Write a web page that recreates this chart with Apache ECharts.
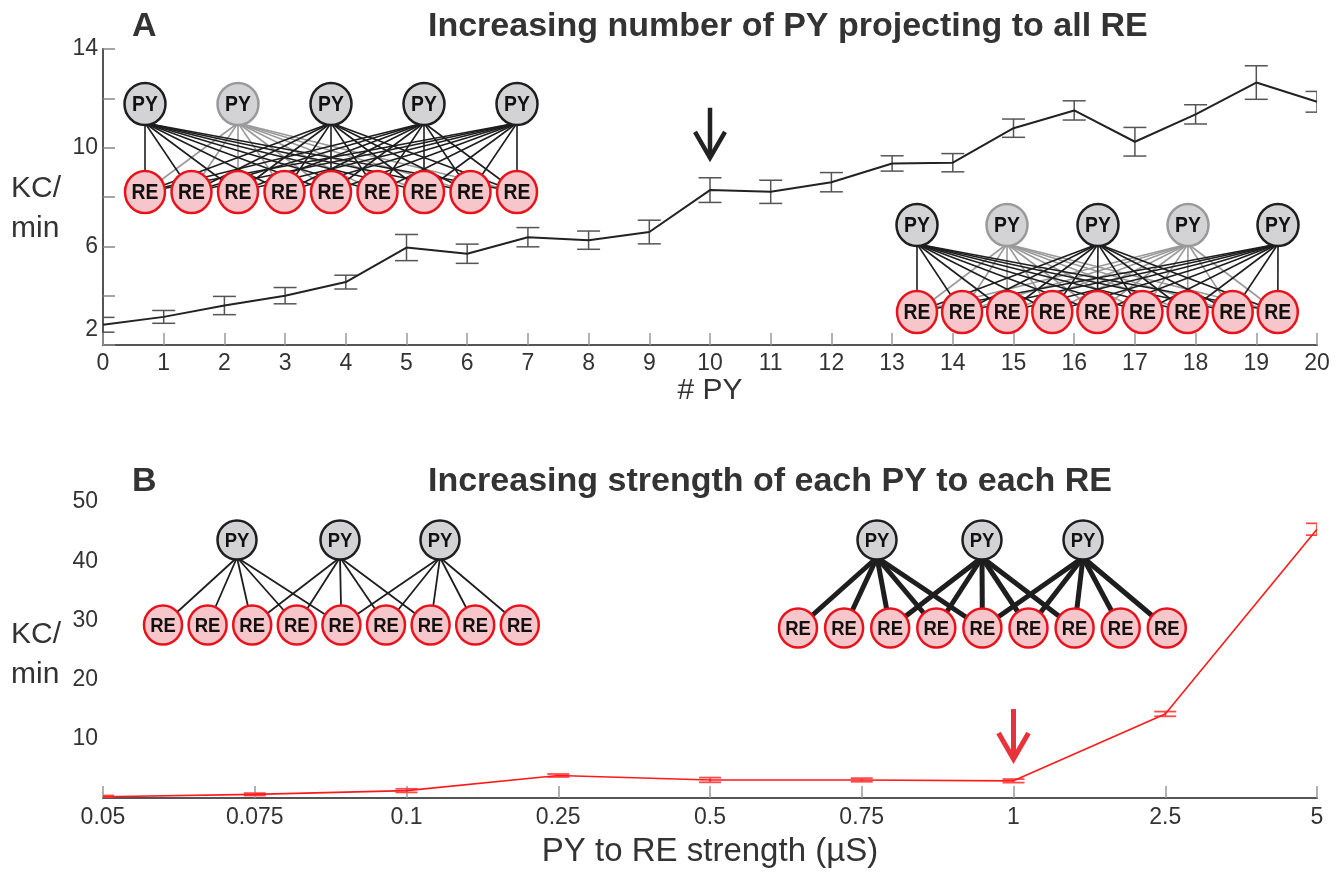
<!DOCTYPE html>
<html>
<head>
<meta charset="utf-8">
<script src="https://cdn.jsdelivr.net/npm/echarts@6/dist/echarts.min.js"></script>
<style>html,body{margin:0;padding:0;background:#fff}#c{width:1340px;height:879px}</style>
</head>
<body>
<div id="c"></div>
<script>
// ---- Panel A data ----
const aPY = [0,1,2,3,4,5,6,7,8,9,10,11,12,13,14,15,16,17,18,19,20];
const aMean = [2.82,3.14,3.60,4.00,4.55,5.95,5.70,6.37,6.25,6.58,8.28,8.21,8.60,9.36,9.39,10.79,11.51,10.24,11.35,12.64,11.86];
const aErr  = [0.30,0.26,0.37,0.33,0.28,0.53,0.39,0.39,0.37,0.48,0.50,0.47,0.39,0.31,0.37,0.37,0.39,0.58,0.39,0.68,0.42];
const aYTicks = [2,6,10,14];
// ---- Panel B data ----
const bStrength = ['0.05','0.075','0.1','0.25','0.5','0.75','1','2.5','5'];
const bMean = [0.22,0.62,1.25,3.8,3.05,3.05,2.9,14.2,45.4];
const bErr  = [0.2,0.2,0.3,0.25,0.4,0.3,0.3,0.4,1.0];
const bYTicks = [10,20,30,40,50];

const chart = echarts.init(document.getElementById('c'), null, {renderer:'canvas'});
const txt = '#333';
const sans = "'Liberation Sans', Arial, sans-serif";

function errRender(color, lw, cap) {
  return function (params, api) {
    const x = api.value(0), lo = api.value(1), hi = api.value(2);
    const p1 = api.coord([x, hi]), p2 = api.coord([x, lo]);
    const st = {stroke: color, lineWidth: lw};
    return {type:'group', children:[
      {type:'line', shape:{x1:p1[0],y1:p1[1],x2:p2[0],y2:p2[1]}, style:st},
      {type:'line', shape:{x1:p1[0]-cap,y1:p1[1],x2:p1[0]+cap,y2:p1[1]}, style:st},
      {type:'line', shape:{x1:p2[0]-cap,y1:p2[1],x2:p2[0]+cap,y2:p2[1]}, style:st}
    ]};
  };
}
function yName(spacer) {
  return {
    name:'{s| }\n{t|KC/}\n{t|min}', nameLocation:'middle', nameRotate:0, nameGap:92,
    nameTextStyle:{fontFamily:sans, fontSize:30, color:txt, align:'left',
      rich:{s:{fontSize:10, lineHeight:spacer, height:spacer},
            t:{fontFamily:sans, fontSize:30, color:txt, lineHeight:40}}}
  };
}

const axisLineA = {lineStyle:{color:'#555', width:2}};
const tickFont = 23;
const option = {
  animation:false,
  title:[
    {text:'A', left:127, top:5, textStyle:{fontFamily:sans, fontSize:34, fontWeight:'bold', color:'#333'}},
    {text:'Increasing number of PY projecting to all RE', left:423, top:5, textStyle:{fontFamily:sans, fontSize:34, fontWeight:'bold', color:'#333'}},
    {text:'B', left:127, top:460, textStyle:{fontFamily:sans, fontSize:34, fontWeight:'bold', color:'#333'}},
    {text:'Increasing strength of each PY to each RE', left:423, top:460, textStyle:{fontFamily:sans, fontSize:34, fontWeight:'bold', color:'#333'}}
  ],
  grid:[
    {left:103, right:23, top:49, bottom:534},
    {left:103, right:23, top:502, bottom:81}
  ],
  xAxis:[
    {gridIndex:0, type:'value', min:0, max:20, interval:1,
     name:'# PY', nameLocation:'middle', nameGap:28,
     nameTextStyle:{fontFamily:sans, fontSize:30, color:txt, verticalAlign:'top'},
     axisLine:axisLineA, axisTick:{inside:true, length:12, lineStyle:{color:'#999', width:1.5}},
     axisLabel:{fontFamily:sans, fontSize:tickFont, color:txt, margin:7}, splitLine:{show:false}},
    {gridIndex:1, type:'category', data:bStrength, boundaryGap:false,
     name:'PY to RE strength (\u00b5S)', nameLocation:'middle', nameGap:37,
     nameTextStyle:{fontFamily:sans, fontSize:33, color:txt, verticalAlign:'top'},
     axisLine:axisLineA, axisTick:{inside:true, length:12, lineStyle:{color:'#999', width:1.5}},
     axisLabel:{fontFamily:sans, fontSize:tickFont, color:txt, margin:8}, splitLine:{show:false}}
  ],
  yAxis:[
    Object.assign({gridIndex:0, type:'value', min:2, max:14, interval:2,
     axisLine:axisLineA, axisTick:{inside:true, length:12, lineStyle:{color:'#888', width:1.5}},
     axisLabel:{fontFamily:sans, fontSize:tickFont, color:txt, margin:5,
       formatter:function(v){ if(aYTicks.indexOf(v)<0) return ''; return v===2 ? '{lift|2}' : String(v); },
       rich:{lift:{fontFamily:sans, fontSize:tickFont, color:txt, padding:[0,0,30,0]}}},
     splitLine:{show:false}}, yName(24)),
    Object.assign({gridIndex:1, type:'value', min:0, max:50, interval:5,
     axisLine:axisLineA, axisTick:{inside:true, length:10, lineStyle:{color:'#888', width:1.5}},
     axisLabel:{fontFamily:sans, fontSize:tickFont, color:txt, margin:5,
       formatter:function(v){ return bYTicks.indexOf(v)<0 ? '' : String(v); }},
     splitLine:{show:false}}, yName(10))
  ],
  series:[
    {type:'line', xAxisIndex:0, yAxisIndex:0, data:aPY.map((x,i)=>[x,aMean[i]]),
     symbol:'none', lineStyle:{color:'#222', width:2}, z:3},
    {type:'custom', xAxisIndex:0, yAxisIndex:0, clip:true,
     data:aPY.map((x,i)=>[x,aMean[i]-aErr[i],aMean[i]+aErr[i]]),
     renderItem:errRender('#555',1.5,11.5), z:2},
    {type:'line', xAxisIndex:1, yAxisIndex:1, data:bMean,
     symbol:'none', lineStyle:{color:'#ff1a1a', width:1.6}, z:3},
    {type:'custom', xAxisIndex:1, yAxisIndex:1, clip:true,
     data:bMean.map((m,i)=>[i,m-bErr[i],m+bErr[i]]),
     renderItem:errRender('#ff4a4a',1.8,11), z:2}
  ]
};
chart.setOption(option);

// ---- schematic diagrams (decoration) ----
function diagram(cfg) {
  const els = [];
  const order = cfg.py.map((p,i)=>i).sort((a,b)=> (cfg.pyGray[b]?1:0)-(cfg.pyGray[a]?1:0));
  order.forEach(i => {
    const px = cfg.py[i];
    const col = cfg.pyGray[i] ? '#9a9a9a' : '#1e1e1e';
    cfg.edges[i].forEach(j => {
      els.push({type:'line', silent:true, z:10,
        shape:{x1:px, y1:cfg.pyY+cfg.ry-2, x2:cfg.re[j], y2:cfg.reY},
        style:{stroke:col, lineWidth:cfg.lw}});
    });
  });
  const label = (t, x, y) => ({type:'text', silent:true, z:12, x:x, y:y+1, scaleX:0.88,
      style:{text:t, x:0, y:0, align:'center', verticalAlign:'middle',
      font:'bold '+cfg.fs+'px '+sans, fill:'#111'}});
  cfg.py.forEach((px,i) => {
    els.push({type:'ellipse', silent:true, z:11, shape:{cx:px, cy:cfg.pyY, rx:cfg.rx, ry:cfg.ry},
      style:{fill:'#d3d3d5', stroke: cfg.pyGray[i] ? '#9a9a9a' : '#1e1e1e', lineWidth:2.5}});
    els.push(label('PY', px, cfg.pyY));
  });
  cfg.re.forEach(rx => {
    els.push({type:'ellipse', silent:true, z:11, shape:{cx:rx, cy:cfg.reY, rx:cfg.rx-0.5, ry:cfg.ry},
      style:{fill:'#f7c6ca', stroke:'#e8121b', lineWidth:2.5}});
    els.push(label('RE', rx, cfg.reY));
  });
  return els;
}
function spread(x0, step, n){ const r=[]; for(let i=0;i<n;i++) r.push(x0+i*step); return r; }
const all9 = [0,1,2,3,4,5,6,7,8];
const g = [];
g.push(...diagram({py:[145,238,331,424,517], pyGray:[0,1,0,0,0], pyY:104, re:spread(145,46.5,9), reY:192,
  rx:20.5, ry:21, lw:1.6, fs:22, edges:[all9,all9,all9,all9,all9]}));
g.push(...diagram({py:[917,1007,1098,1188,1278], pyGray:[0,1,0,1,0], pyY:225, re:spread(917,45.1,9), reY:312,
  rx:20.5, ry:21, lw:1.6, fs:22, edges:[all9,all9,all9,all9,all9]}));
const bEdges = [[0,1,2,3,4],[2,3,4,5,6],[4,5,6,7,8]];
g.push(...diagram({py:[237,340,440], pyGray:[0,0,0], pyY:540, re:spread(163,44.6,9), reY:625,
  rx:19.5, ry:19.5, lw:1.8, fs:21, edges:bEdges}));
g.push(...diagram({py:[877,982,1083], pyGray:[0,0,0], pyY:540, re:spread(798,46.1,9), reY:628,
  rx:19.5, ry:19.5, lw:5, fs:21, edges:bEdges}));

// arrows pointing at highlighted points
function arrow(p, color, w) {
  const tip = p[1]-20, top = tip-50;
  return [
    {type:'line', silent:true, z:12, shape:{x1:p[0], y1:top, x2:p[0], y2:tip-2}, style:{stroke:color, lineWidth:w}},
    {type:'polyline', silent:true, z:12, shape:{points:[[p[0]-15,tip-26],[p[0],tip],[p[0]+15,tip-26]]},
     style:{stroke:color, lineWidth:w, fill:null, lineJoin:'miter'}}
  ];
}
const pa = chart.convertToPixel({xAxisIndex:0, yAxisIndex:0}, [10, aMean[10]+aErr[10]]);
const pb = chart.convertToPixel({xAxisIndex:1, yAxisIndex:1}, [6, bMean[6]+bErr[6]]);
g.push(...arrow(pa, '#222', 4.5));
g.push(...arrow(pb, '#e8333a', 5));
chart.setOption({graphic:g});
</script>
</body>
</html>
